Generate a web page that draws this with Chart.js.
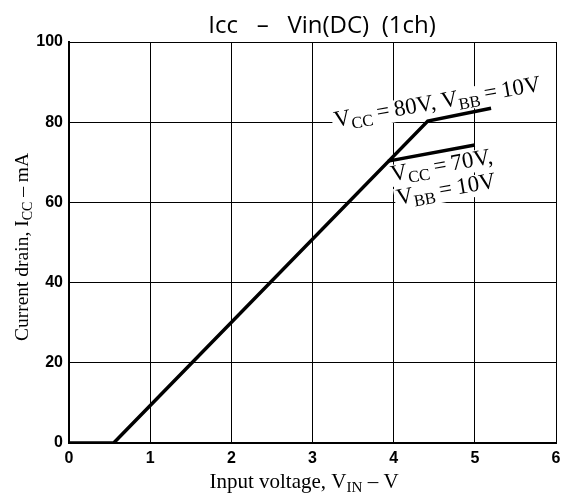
<!DOCTYPE html>
<html>
<head>
<meta charset="utf-8">
<script src="https://cdn.jsdelivr.net/npm/chart.js@4.4.1/dist/chart.umd.min.js"></script>
<style>
	html, body { margin: 0; padding: 0; background: #fff; }
	#wrap { width: 570px; height: 495px; }
</style>
</head>
<body>
<div id="wrap"><canvas id="chart" width="570" height="495"></canvas></div>
<script>
// data
const vin80 = [0, 0.55, 4.42, 5.2];
const icc80 = [0, 0, 80.3, 83.5];
const vin70 = [3.93, 5.0];
const icc70 = [70.3, 74.3];
const xTicks = [0, 1, 2, 3, 4, 5, 6];
const yTicks = [0, 20, 40, 60, 80, 100];

const titleText = 'Icc   \u2013   Vin(DC)  (1ch)';
const xTitle = [['Input voltage, V'], ['IN', 1], [' \u2013 V']];
const yTitle = [['Current drain, I'], ['CC', 1], [' \u2013 mA']];

// curve labels: [x, y] anchor in data units + rich text
const EQ = '\u2009=\u2009';
const labels = [
	{ at: [3.28, 78.8], parts: [['V'], ['CC', 1], [EQ + '80V, V'], ['BB', 1], [EQ + '10V']] },
	{ at: [3.98, 65.3], parts: [['V'], ['CC', 1], [EQ + '70V,']] },
	{ at: [4.05, 59.4], parts: [['V'], ['BB', 1], [EQ + '10V']] },
];

const SERIF = '"Liberation Serif", "DejaVu Serif", serif';

function richWidth(ctx, parts, size) {
	let w = 0;
	parts.forEach(([t, sub]) => {
		ctx.font = (sub ? size * 0.72 : size) + 'px ' + SERIF;
		w += ctx.measureText(t).width;
	});
	return w;
}

function drawRich(ctx, parts, x, y, size) {
	let cx = x;
	parts.forEach(([t, sub]) => {
		ctx.font = (sub ? size * 0.72 : size) + 'px ' + SERIF;
		ctx.fillText(t, cx, sub ? y + size * 0.2 : y);
		cx += ctx.measureText(t).width;
	});
}

const textPlugin = {
	id: 'texts',
	afterDraw(chart) {
		const { ctx, chartArea, scales } = chart;
		ctx.save();
		ctx.fillStyle = '#000';
		ctx.textBaseline = 'alphabetic';
		ctx.textAlign = 'left';

		// title
		ctx.font = '24px "Open Sans", "Noto Sans", sans-serif';
		ctx.textAlign = 'center';
		ctx.fillText(titleText, 322, 33);
		ctx.textAlign = 'left';

		// x axis title
		const xs = 21;
		const xw = richWidth(ctx, xTitle, xs);
		drawRich(ctx, xTitle, 304 - xw / 2, 488, xs);

		// y axis title
		ctx.save();
		ctx.translate(28, 247);
		ctx.rotate(-Math.PI / 2);
		const ys = 19.5;
		const yw = richWidth(ctx, yTitle, ys);
		drawRich(ctx, yTitle, -yw / 2, 0, ys);
		ctx.restore();

		// curve labels
		const ls = 23;
		labels.forEach((l) => {
			const px = scales.x.getPixelForValue(l.at[0]);
			const py = scales.y.getPixelForValue(l.at[1]);
			ctx.save();
			ctx.translate(px, py);
			ctx.rotate(-10 * Math.PI / 180);
			const w = richWidth(ctx, l.parts, ls);
			ctx.fillStyle = '#fff';
			ctx.fillRect(-2, -ls * 0.7, w + 4, ls * 0.95);
			ctx.fillStyle = '#000';
			drawRich(ctx, l.parts, 0, 0, ls);
			ctx.restore();
		});
		ctx.restore();
	},
};

const tickFont = { family: '"Liberation Sans", Arial, sans-serif', size: 16, weight: 'bold' };

new Chart(document.getElementById('chart'), {
	type: 'line',
	data: {
		datasets: [
			{ data: vin80.map((x, i) => ({ x, y: icc80[i] })), borderColor: '#000', borderWidth: 3.5, pointRadius: 0, tension: 0 },
			{ data: vin70.map((x, i) => ({ x, y: icc70[i] })), borderColor: '#000', borderWidth: 3.5, pointRadius: 0, tension: 0 },
		],
	},
	options: {
		responsive: false,
		animation: false,
		layout: { padding: { left: 0, top: 42, right: 14, bottom: 0 } },
		plugins: { legend: { display: false }, tooltip: { enabled: false } },
		scales: {
			x: {
				type: 'linear',
				min: 0,
				max: 6,
				afterBuildTicks: (s) => { s.ticks = xTicks.map((v) => ({ value: v })); },
				afterFit: (s) => { s.height = 52; },
				grid: { color: '#000', lineWidth: 1, drawTicks: false },
				border: { color: '#000', width: 2 },
				ticks: { color: '#000', font: tickFont, padding: 6 },
			},
			y: {
				min: 0,
				max: 100,
				afterBuildTicks: (s) => { s.ticks = yTicks.map((v) => ({ value: v })); },
				afterFit: (s) => { s.width = 69; },
				grid: { color: '#000', lineWidth: 1, drawTicks: false },
				border: { color: '#000', width: 2 },
				ticks: { color: '#000', font: tickFont, padding: 6 },
			},
		},
	},
	plugins: [textPlugin],
});
</script>
</body>
</html>
